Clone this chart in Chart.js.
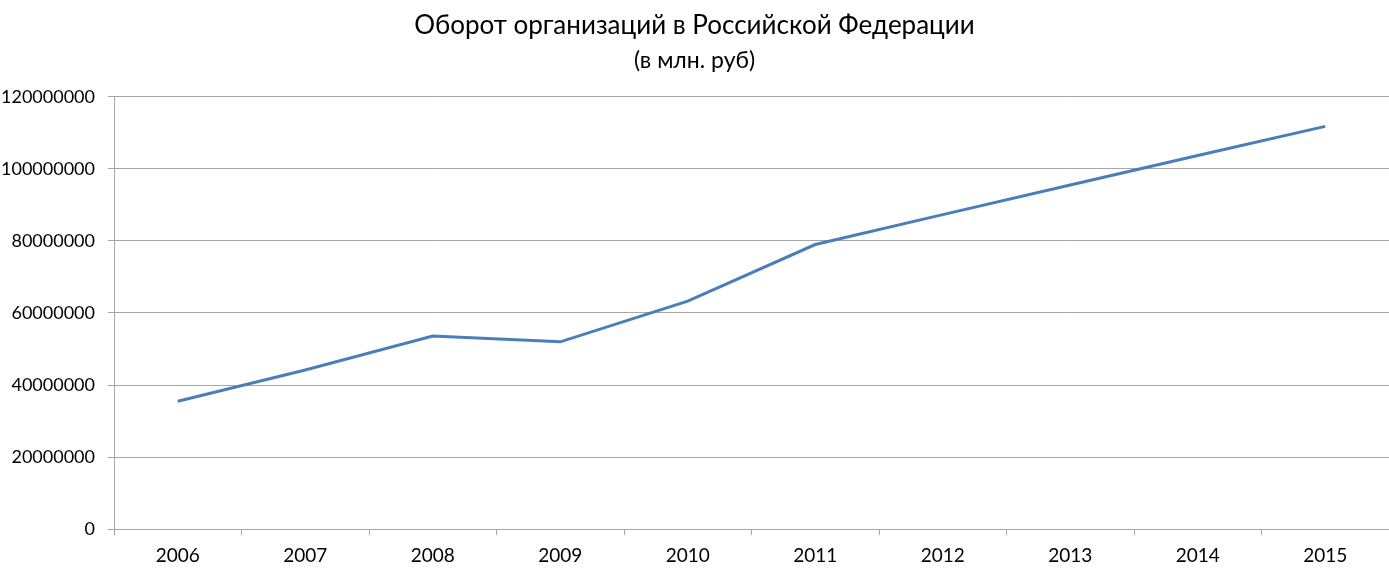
<!DOCTYPE html>
<html>
<head>
<meta charset="utf-8">
<script src="https://cdn.jsdelivr.net/npm/chart.js@4"></script>
<style>
    html, body { margin: 0; padding: 0; background: #fff; }
    #wrap { width: 1389px; height: 577px; }
</style>
</head>
<body>
<div id="wrap"><canvas id="turnoverChart"></canvas></div>
<script>
const years = ['2006', '2007', '2008', '2009', '2010', '2011', '2012', '2013', '2014', '2015'];
const turnover = [35500000, 44200000, 53600000, 52000000, 63300000, 79000000, 87300000, 95500000, 103700000, 111800000];
const yTicks = [0, 20000000, 40000000, 60000000, 80000000, 100000000, 120000000];

const gridGray = '#a6a6a6';

new Chart(document.getElementById('turnoverChart'), {
    type: 'line',
    data: {
        labels: years,
        datasets: [{
            data: turnover,
            borderColor: '#4a7ebb',
            borderWidth: 3,
            pointRadius: 0,
            tension: 0,
            fill: false
        }]
    },
    options: {
        responsive: true,
        maintainAspectRatio: false,
        devicePixelRatio: 1,
        animation: false,
        layout: { padding: { left: 0, right: 0, top: 8, bottom: 1 } },
        plugins: {
            legend: { display: false },
            tooltip: { enabled: false },
            title: {
                display: true,
                text: 'Оборот организаций в Российской Федерации',
                color: '#000',
                font: { family: 'Lato', size: 26, weight: 'normal' },
                padding: { top: 2, bottom: 6 }
            },
            subtitle: {
                display: true,
                text: '(в млн. руб)',
                color: '#000',
                font: { family: 'Lato', size: 23, weight: 'normal' },
                padding: { top: 0, bottom: 22 }
            }
        },
        scales: {
            x: {
                offset: true,
                grid: {
                    offset: true,
                    drawOnChartArea: false,
                    drawTicks: true,
                    tickLength: 6,
                    color: gridGray
                },
                border: { color: gridGray, width: 1 },
                ticks: {
                    color: '#000',
                    font: { family: 'Lato', size: 19 },
                    padding: 9,
                    maxRotation: 0
                }
            },
            y: {
                min: 0,
                max: 120000000,
                afterBuildTicks: axis => { axis.ticks = yTicks.map(v => ({ value: v })); },
                afterFit: axis => { axis.width = 114; },
                grid: {
                    color: gridGray,
                    lineWidth: 1,
                    drawTicks: true,
                    tickLength: 6
                },
                border: { color: gridGray, width: 1 },
                ticks: {
                    color: '#000',
                    font: { family: 'Lato', size: 18 },
                    padding: 13,
                    callback: v => String(v)
                }
            }
        }
    }
});
</script>
</body>
</html>
